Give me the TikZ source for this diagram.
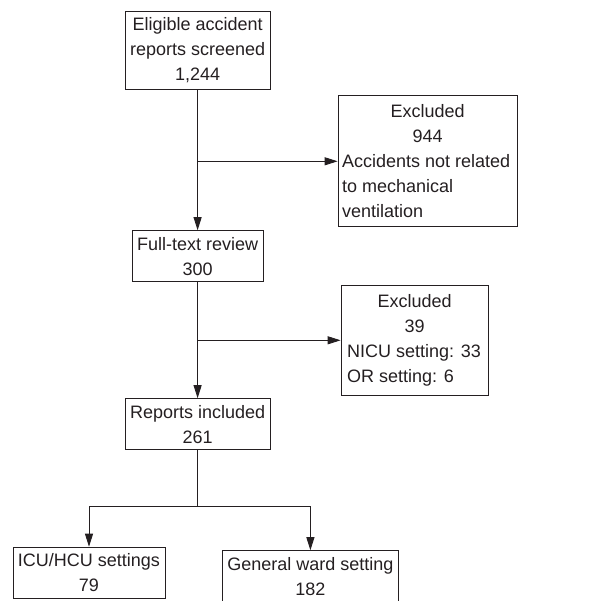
\documentclass[tikz,border=0pt]{standalone}
\usepackage{fontspec}
\setmainfont{Liberation Sans}
\usetikzlibrary{arrows.meta}
\definecolor{lnc}{rgb}{0.14,0.12,0.13}
\newcommand{\midline}[1]{\makebox[\hsize]{#1}}

\begin{document}
\begin{tikzpicture}[x=1pt, y=-1pt, color=lnc, line width=0.9pt, >={Triangle[length=13pt, width=8pt]},
  every node/.style={font=\fontsize{18}{25}\selectfont},
  block/.style={rectangle, draw, align=center, inner xsep=5pt, inner ysep=6.5pt},
  exblock/.style={rectangle, draw, align=flush left, inner xsep=4pt, inner ysep=9pt}]

    \useasboundingbox (0,0) rectangle (597,601);

    \node[block] (screen) at (197.6,50.3) {Eligible accident\\reports screened\\1,244};
    \node[coordinate, below of=screen, node distance=111pt] (split1) {};
    \node[exblock, text width=171pt, right of=split1, node distance=230pt] (excl1) {\midline{Excluded}\\\midline{944}\\Accidents not related\\to mechanical\\ventilation};
    \node[block, below of=screen, node distance=206pt] (full) {Full-text review\\300};
    \node[coordinate, below of=full, node distance=84pt] (split2) {};
    \node[exblock, text width=135pt, inner xsep=6pt, right of=split2, node distance=217pt] (excl2) {\midline{Excluded}\\\midline{39}\\NICU setting: 33\\OR setting: 6};
    \node[block, below of=full, node distance=168pt] (incl) {Reports included\\261};
    \node[coordinate, below of=incl, node distance=82.5pt] (branch) {};
    \node[coordinate, left of=branch, node distance=108.6pt] (bl) {};
    \node[coordinate, right of=branch, node distance=112.8pt] (br) {};
    \node[block, below of=bl, node distance=66pt] (icu) {ICU/HCU settings\\79};
    \node[block, below of=br, node distance=69.5pt] (ward) {General ward setting\\182};

    \draw[->] (screen) -- (full);
    \draw[->] (split1) -- (excl1);
    \draw[->] (full) -- (incl);
    \draw[->] (split2) -- (excl2);
    \draw (incl) -- (branch);
    \draw[->] (branch) -| (icu);
    \draw[->] (branch) -| (ward);

\end{tikzpicture}
\end{document}
